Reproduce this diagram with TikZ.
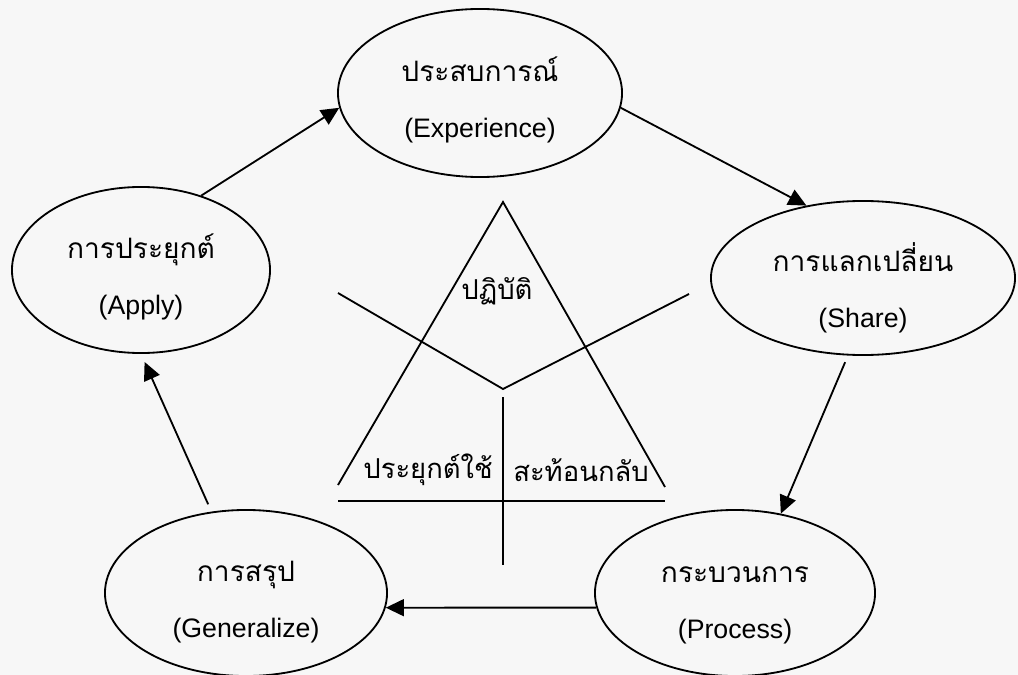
\documentclass[tikz,border=0pt]{standalone}
\usepackage{fontspec}
\setmainfont{Liberation Sans}
\newfontfamily\thaifont[Script=Thai]{Loma}
\usetikzlibrary{arrows.meta, shapes.geometric}

\newcommand{\thaiword}[1]{{\thaifont\fontsize{20}{40}\selectfont #1}}

\begin{document}
\begin{tikzpicture}[
  x=0.025cm, y=-0.025cm,
  phase/.style={ellipse, draw, line width=1.3pt, inner sep=0pt},
  caption/.style={align=center, inner sep=0pt,
    font=\fontsize{19}{40}\selectfont},
  part/.style={inner sep=0pt, font=\thaifont\fontsize{19.5}{24}\selectfont},
  arrow/.style={-{Triangle[length=0.45cm, width=0.42cm]}, line width=1.3pt},
  frame/.style={line width=1.3pt}
]
  \path[use as bounding box, fill=black!3] (0,0) rectangle (1018,675);

  \node[phase, minimum width=7.1cm, minimum height=4.2cm] (exper) at (480,93) {};
  \node[phase, minimum width=7.6cm, minimum height=3.85cm] (share) at (863,278) {};
  \node[phase, minimum width=7cm, minimum height=4.15cm] (process) at (735,593) {};
  \node[phase, minimum width=7.05cm, minimum height=4.15cm] (general) at (246,593) {};
  \node[phase, minimum width=6.45cm, minimum height=4.15cm] (apply) at (141,270) {};

  \node[caption] (experText) at ([yshift=-0.18cm]exper.center)
    {\thaiword{ประสบการณ์}\\(Experience)};
  \node[caption] (shareText) at ([yshift=-0.24cm]share.center)
    {\thaiword{การแลกเปลี่ยน}\\(Share)};
  \node[caption] (processText) at ([yshift=-0.3cm]process.center)
    {\thaiword{กระบวนการ}\\(Process)};
  \node[caption] (generalText) at ([yshift=-0.23cm]general.center)
    {\thaiword{การสรุป}\\(Generalize)};
  \node[caption] (applyText) at ([yshift=-0.17cm]apply.center)
    {\thaiword{การประยุกต์}\\(Apply)};

  \draw[arrow] (apply.51) -- (exper.186);
  \draw[arrow] (exper.354) -- (share.128);
  \draw[arrow, shorten <=0.18cm] (share.259) -- (process.60);
  \draw[arrow] (process.186) -- (general.354);
  \draw[arrow, shorten <=0.2cm, shorten >=0.22cm] (general.113) -- (apply.270);

  \draw[frame] (338,485) -- (503,202) -- (665,487);
  \draw[frame] (338,501) -- (665,501);
  \draw[frame] (503,397) -- (503,565);
  \draw[frame] (338,293) -- (503,389) -- (689,294);

  \node[part] (act) at (497,291) {ปฏิบัติ};
  \node[part, anchor=east] (use) at (493,470) {ประยุกต์ใช้};
  \node[part, anchor=west] (reflect) at (513,470) {สะท้อนกลับ};
\end{tikzpicture}
\end{document}
